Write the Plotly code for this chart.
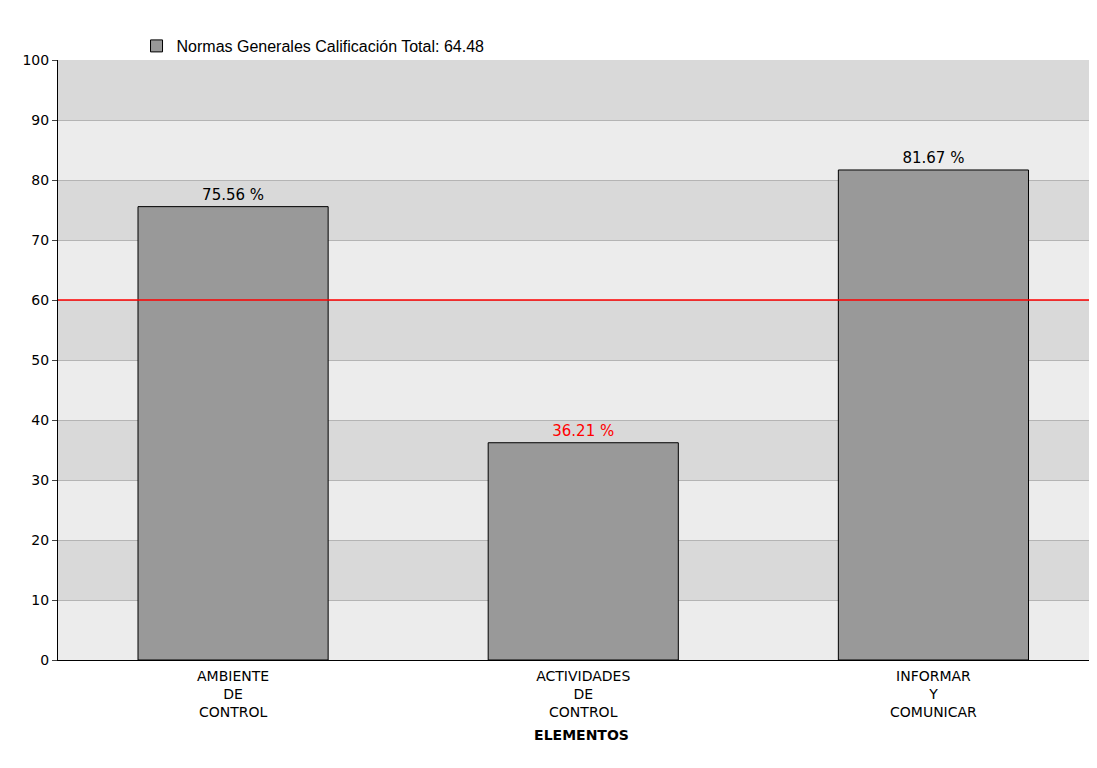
import plotly.graph_objects as go

categories = ["AMBIENTE<br>DE<br>CONTROL", "ACTIVIDADES<br>DE<br>CONTROL", "INFORMAR<br>Y<br>COMUNICAR"]
values = [75.56, 36.21, 81.67]
label_colors = ["black", "red", "black"]
threshold = 60
legend_name = "Normas Generales Calificación Total: 64.48"
yticks = list(range(0, 101, 10))

fig = go.Figure()
fig.add_trace(go.Bar(
    x=[0, 1, 2], y=values, width=0.543, name=legend_name,
    marker=dict(color="#999999", line=dict(color="black", width=1)),
    text=[f"{v:.2f} %" for v in values], textposition="outside",
    textfont=dict(color=label_colors, size=15, family="DejaVu Sans"),
    cliponaxis=False, showlegend=True,
))
for i in range(10):
    fig.add_shape(type="rect", xref="paper", yref="y", x0=0, x1=1,
                  y0=i*10, y1=i*10+10, layer="below", line_width=0,
                  fillcolor="#d9d9d9" if i % 2 == 1 else "#ececec")
fig.add_shape(type="line", xref="paper", yref="y", x0=0, x1=1,
              y0=threshold, y1=threshold, line=dict(color="red", width=1.5))

fig.update_layout(
    width=1097, height=768, paper_bgcolor="white", plot_bgcolor="#ececec",
    margin=dict(l=50, r=0, t=52, b=116),
    font=dict(family="DejaVu Sans", color="black", size=14),
    showlegend=True,
    legend=dict(orientation="h", x=0.075, y=0.995, xanchor="left", yanchor="bottom",
                bgcolor="rgba(0,0,0,0)",
                font=dict(size=16, family="Liberation Sans")),
    xaxis=dict(range=[-0.5, 2.49], tickvals=[0, 1, 2], ticktext=categories,
               showgrid=False, linecolor="black", showline=True, ticks="outside",
               ticklen=3, tickcolor="rgba(0,0,0,0)", tickfont=dict(size=14),
               title=dict(text="<b>ELEMENTOS</b>", font=dict(size=14), standoff=10)),
    yaxis=dict(range=[0, 100], tickvals=yticks, showgrid=True, gridcolor="#b4b4b4",
               linecolor="black", showline=True, ticks="outside", ticklen=5,
               tickfont=dict(size=14), zeroline=False, layer="below traces"),
)
fig.write_html("out.html")
